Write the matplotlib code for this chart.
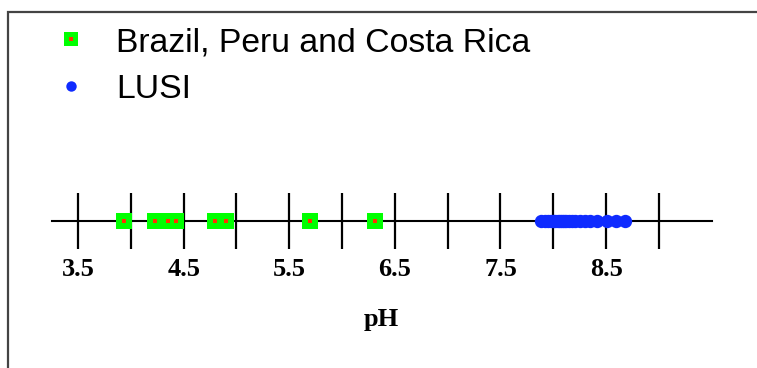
import matplotlib
matplotlib.use("Agg")
import matplotlib.pyplot as plt
from matplotlib.lines import Line2D
from matplotlib.legend_handler import HandlerTuple
from matplotlib.patches import Rectangle

# Data
green_label = "Brazil, Peru and Costa Rica"
blue_label = "LUSI"
green_ph = [3.93, 4.23, 4.35, 4.43, 4.80, 4.90, 5.70, 6.31]
blue_ph = [7.88, 7.92, 7.95, 7.98, 8.00, 8.02, 8.04, 8.06, 8.08, 8.10,
           8.12, 8.15, 8.18, 8.21, 8.25, 8.30, 8.35, 8.41, 8.51, 8.59, 8.68]
major_ticks = [3.5, 4.5, 5.5, 6.5, 7.5, 8.5]
minor_ticks = [4.0, 5.0, 6.0, 7.0, 8.0, 9.0]
tick_labels = ["3.5", "4.5", "5.5", "6.5", "7.5", "8.5"]
xlabel = "pH"

W, H = 757, 368
fig = plt.figure(figsize=(W / 100, H / 100), dpi=100)
ax = fig.add_axes([51.7 / W, 0, 660 / W, 1])
ax.set_xlim(3.25, 9.5)
ax.set_ylim(-(H - 220.7) / 100, 220.7 / 100)

for s in ["top", "left", "right"]:
    ax.spines[s].set_visible(False)
ax.spines["bottom"].set_position(("data", 0))
ax.spines["bottom"].set_linewidth(1.5)
ax.spines["bottom"].set_color("black")
ax.set_yticks([])

ax.set_xticks(major_ticks)
ax.set_xticklabels(tick_labels)
ax.set_xticks(minor_ticks, minor=True)
ax.tick_params(axis="x", which="both", direction="inout", length=40,
               width=1.6, color="black")
ax.tick_params(axis="x", which="major", pad=7)
for lab in ax.get_xticklabels():
    lab.set_family("Liberation Serif")
    lab.set_fontweight("bold")
    lab.set_fontsize(19)

ax.set_xlabel(xlabel, fontfamily="Liberation Serif", fontweight="bold",
              fontsize=19, labelpad=19)

ax.plot(green_ph, [0] * len(green_ph), linestyle="none", marker="s",
        markersize=11.3, color="#00ff00", markeredgewidth=0, zorder=5,
        clip_on=False)
ax.plot(green_ph, [0] * len(green_ph), linestyle="none", marker="s",
        markersize=2.4, color="#ff3300", markeredgewidth=0, zorder=6,
        clip_on=False)
ax.plot(blue_ph, [0] * len(blue_ph), linestyle="none", marker="o",
        markersize=9.6, color="#0f2bff", markeredgewidth=0, zorder=5,
        clip_on=False)

h_green = (Line2D([], [], linestyle="none", marker="s", markersize=9.5,
                  color="#00ff00", markeredgewidth=0),
           Line2D([], [], linestyle="none", marker="s", markersize=2.4,
                  color="#ff3300", markeredgewidth=0))
h_blue = Line2D([], [], linestyle="none", marker="o", markersize=7.5,
                color="#0f2bff", markeredgewidth=0)
leg = fig.legend([h_green, h_blue], [green_label, blue_label],
                 handler_map={tuple: HandlerTuple(ndivide=1, pad=0)},
                 loc="upper left", bbox_to_anchor=(52 / W, 1 - 27 / H),
                 frameon=False, prop={"family": "Liberation Sans", "size": 24.3},
                 handlelength=1.1, handletextpad=0.8, labelspacing=0.48,
                 borderpad=0, borderaxespad=0)

fig.patches.append(Rectangle((8 / W, -0.5), 1.5, 1.5 - 11.5 / H,
                             transform=fig.transFigure, fill=False,
                             edgecolor="#444444", linewidth=1.6))

fig.savefig("out.png", dpi=100)
